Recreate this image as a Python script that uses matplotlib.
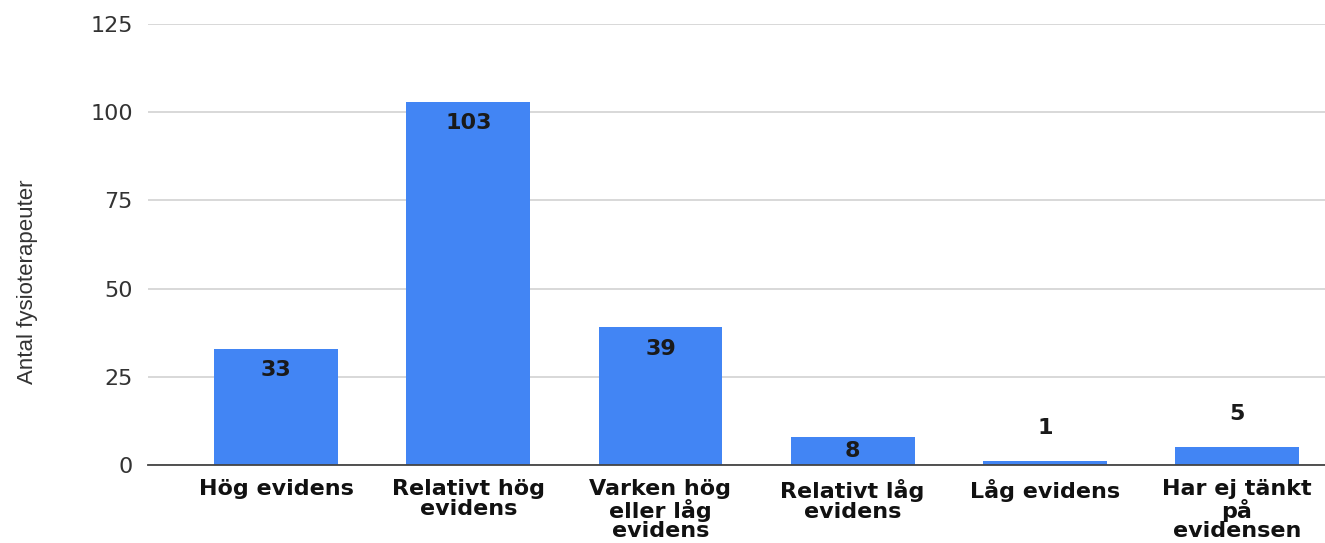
import matplotlib.pyplot as plt

# Antal fysioterapeuter per svarsalternativ
categories = ["Hög evidens", "Relativt hög\nevidens", "Varken hög\neller låg\nevidens",
              "Relativt låg\nevidens", "Låg evidens", "Har ej tänkt\npå\nevidensen"]
counts = [33, 103, 39, 8, 1, 5]
yticks = [0, 25, 50, 75, 100, 125]

plt.rcParams['font.family'] = ['DejaVu Sans']

fig = plt.figure(figsize=(13.25, 5.43), dpi=100)
ax = fig.add_axes([148 / 1325, 1 - 465 / 543, (1325 - 148) / 1325, 441 / 543])

x = range(len(categories))
bars = ax.bar(x, counts, width=0.645, color='#4285F4', zorder=3)

# value labels: inside near the top for tall bars, centred in short bars,
# above the bar when it is too thin to hold the text
label_kw = dict(textcoords='offset points', ha='center', fontsize=16,
                fontweight='bold', color='#1a1a1a', zorder=4)
for rect, val in zip(bars, counts):
    cx = rect.get_x() + rect.get_width() / 2
    if val >= 15:
        ax.annotate(str(val), (cx, val), xytext=(0, -8.5), va='top', **label_kw)
    elif val >= 8:
        ax.annotate(str(val), (cx, val / 2), xytext=(0, 0), va='center', **label_kw)
    else:
        ax.annotate(str(val), (cx, val), xytext=(0, 24), va='center', **label_kw)

ax.set_xlim(-0.667, 5.458)
ax.set_ylim(0, 125)
ax.set_yticks(yticks)
ax.set_yticklabels([str(t) for t in yticks], fontsize=16, color='#333333')
ax.set_xticks(list(x))
ax.set_xticklabels(categories, fontsize=16, fontweight='bold', color='#111111', linespacing=0.98)
ax.tick_params(axis='both', length=0)
ax.tick_params(axis='y', pad=11)
ax.tick_params(axis='x', pad=10)

ax.yaxis.grid(True, color='#d6d6d6', linewidth=1.3, zorder=0)
ax.set_axisbelow(True)
for side in ['top', 'right', 'left']:
    ax.spines[side].set_visible(False)
ax.spines['bottom'].set_color('#444444')
ax.spines['bottom'].set_linewidth(1.3)
ax.spines['bottom'].set_zorder(5)

fig.text(0.021, 1 - 282 / 543, "Antal fysioterapeuter", rotation=90, ha='center', va='center',
         fontsize=16, color='#333333', family='Liberation Sans')

fig.savefig("out.png", dpi=100)
